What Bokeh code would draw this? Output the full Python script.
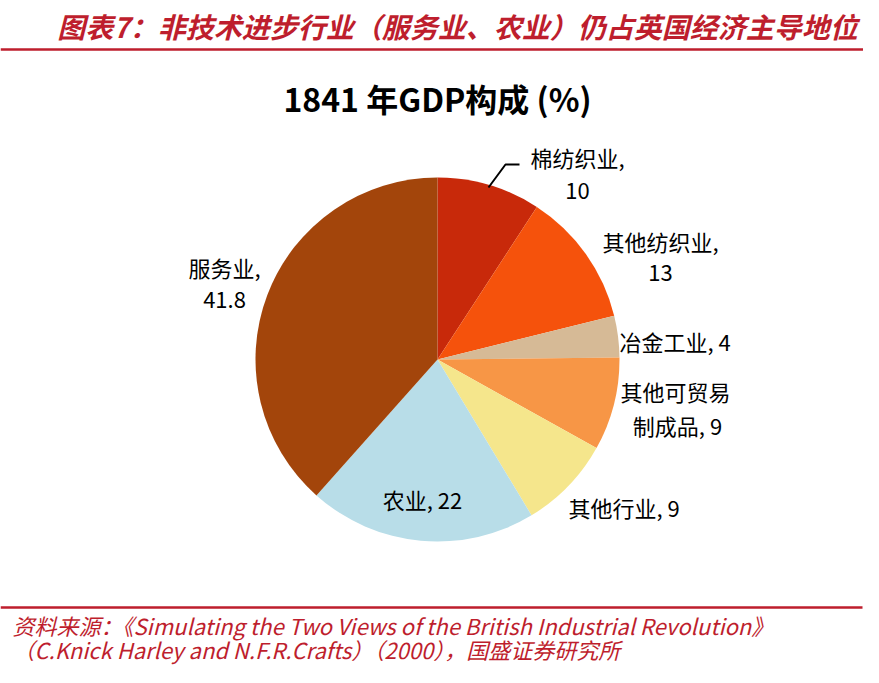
import math
from bokeh.plotting import figure
from bokeh.models import Range1d
from bokeh.core.properties import value
from bokeh.embed import file_html
from bokeh.resources import INLINE

# ---- data ----
categories = ["棉纺织业", "其他纺织业", "冶金工业", "其他可贸易制成品", "其他行业", "农业", "服务业"]
values = [10, 13, 4, 9, 9, 22, 41.8]
value_labels = ["10", "13", "4", "9", "9", "22", "41.8"]
colors = ["#C8290A", "#F5520C", "#D6BA96", "#F79646", "#F5E68C", "#B8DDE8", "#A3450B"]

header = "图表7：非技术进步行业（服务业、农业）仍占英国经济主导地位"
chart_title = "1841 年GDP构成 (%)"
source_line1 = "资料来源：《Simulating the Two Views of the British Industrial Revolution》"
source_line2 = "（C.Knick Harley and N.F.R.Crafts）（2000），国盛证券研究所"

# ---- layout (picture pixel coordinates) ----
W, H = 863, 667
PAGE_H = 683
def Y(py):
    return PAGE_H - py

p = figure(width=W, height=H, output_backend="svg", toolbar_location=None,
           x_range=Range1d(0, W), y_range=Range1d(PAGE_H - H, PAGE_H),
           min_border=0, match_aspect=False)
p.axis.visible = False
p.grid.visible = False
p.outline_line_color = None
p.background_fill_color = "white"

red = "#BE1E2D"
cjk = "Noto Sans CJK SC"

# header
p.text(x=[457], y=[Y(25)], text=[header], text_color=red, text_font=value(cjk),
       text_font_size="28px", text_font_style="bold italic",
       text_align="center", text_baseline="middle")
p.line(x=[0, 863], y=[Y(49), Y(49)], line_color=red, line_width=2.5)

# title
p.text(x=[437], y=[Y(97)], text=[chart_title], text_color="black", text_font=value(cjk),
       text_font_size="32px", text_font_style="bold",
       text_align="center", text_baseline="middle")

# pie
cx, cy, r = 437, Y(359), 182
total = sum(values)
starts, ends = [], []
cum = 0.0
for v in values:
    a0 = math.pi / 2 - 2 * math.pi * (cum + v) / total
    a1 = math.pi / 2 - 2 * math.pi * cum / total
    starts.append(a0)
    ends.append(a1)
    cum += v
p.wedge(x=cx, y=cy, radius=r, start_angle=starts, end_angle=ends,
        fill_color=colors, line_color=None)

# labels
lab_font = "22px"
def lab(x, y, s, align="center"):
    p.text(x=[x], y=[Y(y)], text=[s], text_color="black", text_font=value(cjk),
           text_font_size=lab_font, text_align=align, text_baseline="middle")

lab(577, 156, categories[0] + ",")
lab(577, 190, value_labels[0])
lab(660, 240, categories[1] + ",")
lab(660, 272, value_labels[1])
lab(619, 340, categories[2] + ", " + value_labels[2], "left")
lab(675, 390, categories[3][:5])
lab(677, 424, categories[3][5:] + ", " + value_labels[3])
lab(568, 506, categories[4] + ", " + value_labels[4], "left")
lab(422, 498, categories[5] + ", " + value_labels[5])
lab(224, 266, categories[6] + ",")
lab(224, 299, value_labels[6])

# leader line for 棉纺织业
p.line(x=[488, 505, 519], y=[Y(187), Y(164), Y(164)], line_color="black", line_width=2)

# footer
p.line(x=[0, 862], y=[Y(607), Y(607)], line_color=red, line_width=2.5)
p.text(x=[12], y=[Y(624)], text=[source_line1], text_color=red, text_font=value(cjk),
       text_font_size="22px", text_font_style="italic",
       text_align="left", text_baseline="middle")
p.text(x=[12], y=[Y(648)], text=[source_line2], text_color=red, text_font=value(cjk),
       text_font_size="22px", text_font_style="italic",
       text_align="left", text_baseline="middle")

open("out.html", "w").write(file_html(p, INLINE))
